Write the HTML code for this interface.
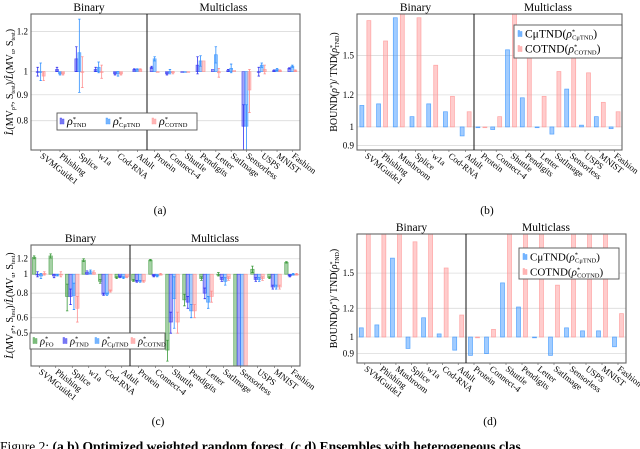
<!DOCTYPE html>
<html><head><meta charset="utf-8">
<style>
html,body{margin:0;padding:0;background:#fff;font-family:"Liberation Serif","DejaVu Serif",serif;}
svg{display:block;}
svg text{font-family:"Liberation Serif","DejaVu Serif",serif;}
.cap{position:absolute;left:0;top:439px;width:700px;font-family:"Liberation Serif","DejaVu Serif",serif;font-size:13.5px;white-space:nowrap;color:#000;}
</style></head>
<body>
<div style="position:relative;width:640px;height:449px;overflow:hidden;">
<svg id="fig" width="640" height="449" viewBox="0 0 640 449" font-family="Liberation Serif, serif"></svg>
<div class="cap">Figure 2: <b>(a,b) Optimized weighted random forest.</b> <b>(c,d) Ensembles with heterogeneous clas</b></div>
</div>
<script>
// ---- data ----
const binA = ["SVMGuide1","Phishing","Splice","w1a","Cod-RNA","Adult"];
const binB = ["SVMGuide1","Phishing","Mushroom","Splice","w1a","Cod-RNA","Adult"];
const multi = ["Protein","Connect-4","Shuttle","Pendigits","Letter","SatImage","Sensorless","USPS","MNIST","Fashion"];

const aTND  = [1.0,1.01,1.06,1.01,0.99,1.01, 1.02,0.99,1.0,1.03,1.01,1.005,0.78,1.0,1.005,1.015];
const aCmu  = [1.0,0.99,1.09,1.02,0.99,1.01, 1.06,1.0,1.0,1.05,1.08,1.015,0.78,1.03,1.01,1.025];
const aCO   = [0.98,0.99,1.0,1.0,0.99,1.01, 1.0,0.995,1.0,1.05,0.995,1.005,0.92,1.01,1.005,1.005];
const aErrTND = [0.02,0.01,0.06,0.01,0.005,0.003, 0.005,0.005,0,0.04,0,0.005,0.08,0.02,0.003,0.003];
const aErrCmu = [0.04,0.005,0.18,0.025,0.01,0.003, 0.01,0.01,0,0.025,0.04,0.02,0.08,0.01,0.005,0.005];
const aErrCO  = [0.02,0.005,0.07,0.03,0.005,0.003, 0,0.005,0,0,0.02,0,0.09,0.02,0.003,0.003];

const bCmu = [1.13,1.14,1.86,1.06,1.14,1.09,0.95, 1.0,0.985,1.55,1.18,1.0,0.96,1.24,1.01,1.06,0.99];
const bCO  = [1.83,1.63,1.95,1.86,1.42,1.19,1.09, 1.0,1.06,1.95,1.6,1.19,1.37,1.6,1.36,1.15,1.09];

const cFO  = [1.22,1.24,0.77,1.18,0.92,0.96, 0.93,1.18,0.41,0.74,0.95,1.0,0.3,1.06,0.96,1.15];
const cTND = [1.0,0.98,0.77,1.02,0.79,0.97, 0.92,0.98,0.57,0.72,0.8,0.94,0.3,0.94,0.86,0.98];
const cCmu = [0.98,0.99,0.78,1.03,0.79,0.96, 0.92,0.98,0.75,0.65,0.72,0.92,0.3,0.94,0.86,1.0];
const cCO  = [1.01,1.0,0.67,1.02,0.82,0.97, 0.92,1.0,0.57,0.65,0.77,0.95,0.3,0.95,0.86,1.0];
const cErrFO  = [0.02,0.03,0.12,0.02,0.02,0.01, 0.01,0.01,0.05,0.05,0.02,0.02,0,0.04,0.01,0.01];
const cErrTND = [0.03,0.02,0.07,0.02,0.01,0.01, 0.01,0.01,0.07,0.05,0.05,0.02,0,0.02,0.02,0.01];
const cErrCmu = [0.03,0.01,0.12,0.02,0.01,0.01, 0.01,0.01,0.22,0.05,0.05,0.04,0,0.02,0.02,0.01];
const cErrCO  = [0.02,0.03,0.1,0.02,0.01,0.01, 0.01,0.01,0.07,0.05,0.05,0.02,0,0.02,0.02,0.01];

const dCmu = [1.06,1.08,1.65,0.93,1.13,1.02,0.92, 0.89,0.9,1.41,1.21,0.995,0.89,1.06,1.04,1.04,0.94];
const dCO  = [1.95,1.95,1.95,1.83,1.95,1.55,1.15, 1.0,1.05,1.95,1.95,1.95,1.39,1.95,1.95,1.95,1.16];

const ticksA = [0.8,0.9,1,1.2];
const ticksB = [0.9,1,1.2,1.5];
const ticksC = [0.5,0.6,0.8,1,1.2];
const ticksD = [0.9,1,1.2,1.5];

// ---- drawing ----
const NS="http://www.w3.org/2000/svg";
const svg=document.getElementById('fig');
const FF="Liberation Serif, DejaVu Serif, serif";
function mk(tag,attrs,parent){const e=document.createElementNS(NS,tag);for(const k in attrs)e.setAttribute(k,attrs[k]);if(tag==='text')e.setAttribute('font-family',FF);(parent||svg).appendChild(e);return e;}
const COL={FO:"#3a9a3a",TND:"#3434f0",Cmu:"#2f8fff",CO:"#ff8f8f"};

function panel(id,p){
  const g=mk('g',{});
  
  
  const y=v=>p.y1-(Math.log(v)-Math.log(p.lo))/(Math.log(p.hi)-Math.log(p.lo))*(p.y1-p.y0);
  p.ticks.forEach(t=>{
    const l=mk('line',{x1:p.x0,x2:p.x1,y1:y(t),y2:y(t),stroke:"#dcdcdc","stroke-width":0.8},g);
    
    
    const tx=mk('text',{x:p.x0-3,y:y(t)+3,"text-anchor":"end","font-size":9},g);
    tx.textContent=String(t);
    
    
  });
  const cats=p.bin.concat(multi);
  const nB=p.bin.length;
  const cx=i=> i<nB ? p.x0+(i+0.5)*(p.div-p.x0)/nB : p.div+(i-nB+0.5)*(p.x1-p.div)/multi.length;
  const clipId='clip'+id;
  const cp=mk('clipPath',{id:clipId},g);
  mk('rect',{x:p.x0,y:p.y0,width:p.x1-p.x0,height:p.y1-p.y0},cp);
  const bars=mk('g',{"clip-path":"url(#"+clipId+")"},g);
  cats.forEach((c,i)=>{
    p.series.forEach((s,k)=>{
      const v=s.vals[i];
      const xl=cx(i)-p.groupW/2+k*(p.bw+p.gap);
      const ya=y(1), yb=y(v);
      const r=mk('rect',{x:xl,y:Math.min(ya,yb),width:p.bw,height:Math.max(0.8,Math.abs(yb-ya)),fill:COL[s.c],"fill-opacity":0.45,stroke:COL[s.c],"stroke-opacity":0.75,"stroke-width":0.7},bars);
      
      
      if(s.err && s.err[i]>0){
        const e=s.err[i], xm=xl+p.bw/2;
        const lo=Math.max(v-e,0.05);
        const el=mk('path',{d:`M${xm},${y(lo)}V${y(v+e)}M${xm-1.2},${y(lo)}h2.4M${xm-1.2},${y(v+e)}h2.4`,stroke:COL[s.c],"stroke-width":0.8,fill:"none"},bars);
        
        
      }
    });
    mk('line',{x1:cx(i),x2:cx(i),y1:p.y1,y2:p.y1+2,stroke:"#555","stroke-width":0.6},g);
    const lx=cx(i)-1, ly=p.y1+7;
    const t=mk('text',{x:lx,y:ly,"font-size":8.8,transform:`rotate(38 ${lx} ${ly})`},g);
    t.textContent=c;
    
    
  });
  const box=mk('rect',{x:p.x0,y:p.y0,width:p.x1-p.x0,height:p.y1-p.y0,fill:"none",stroke:"#666","stroke-width":1.1},g);
  
  
  const dv=mk('line',{x1:p.div,x2:p.div,y1:p.y0,y2:p.y1,stroke:"#111","stroke-width":1},g);
  
  
  const t1=mk('text',{x:(p.x0+p.div)/2,y:p.y0-3,"text-anchor":"middle","font-size":11.5},g);
  t1.textContent="Binary";
  
  
  const t2=mk('text',{x:(p.div+p.x1)/2,y:p.y0-3,"text-anchor":"middle","font-size":11.5},g);
  t2.textContent="Multiclass";
  
  
  const cap=mk('text',{x:p.capX,y:p.capY,"text-anchor":"middle","font-size":11.5},g);
  cap.textContent=p.cap;
  
  
  const yl=mk('text',{x:0,y:0,"text-anchor":"middle","font-size":10,transform:`translate(${p.ylx},${(p.y0+p.y1)/2}) rotate(-90)`},g);
  yl.innerHTML=p.ylab;
  
  
}

const labA='<tspan font-style="italic">L̂</tspan>(MV<tspan font-size="6" dy="2">ρ*</tspan><tspan dy="-2">, S</tspan><tspan font-size="6" dy="2">test</tspan><tspan dy="-2">)/</tspan><tspan font-style="italic">L̂</tspan>(MV<tspan font-size="6" dy="2">u</tspan><tspan dy="-2">, S</tspan><tspan font-size="6" dy="2">test</tspan><tspan dy="-2">)</tspan>';
const labB='BOUND(<tspan font-style="italic">ρ</tspan><tspan font-size="6" dy="-3">*</tspan><tspan dy="3">)/ TND(</tspan><tspan font-style="italic">ρ</tspan><tspan font-size="6" dy="-3">*</tspan><tspan font-size="6" dx="-3" dy="5">TND</tspan><tspan dy="-2">)</tspan>';

panel('a',{x0:31,x1:300,y0:14,y1:150,div:147,lo:0.70,hi:1.30,ticks:ticksA,bin:binA,bw:3,gap:0,groupW:9,
  series:[{c:"TND",vals:aTND,err:aErrTND},{c:"Cmu",vals:aCmu,err:aErrCmu},{c:"CO",vals:aCO,err:aErrCO}],
  cap:"(a)",capX:160,capY:214,ylab:labA,ylx:13});
panel('b',{x0:357,x1:622,y0:14,y1:150,div:474,lo:0.877,hi:1.90,ticks:ticksB,bin:binB,bw:4,gap:3,groupW:11,
  series:[{c:"Cmu",vals:bCmu},{c:"CO",vals:bCO}],
  cap:"(b)",capX:487,capY:214,ylab:labB,ylx:337});
panel('c',{x0:31,x1:300,y0:245,y1:366,div:130,lo:0.34,hi:1.41,ticks:ticksC,bin:binA,bw:3.4,gap:0,groupW:13.6,
  series:[{c:"FO",vals:cFO,err:cErrFO},{c:"TND",vals:cTND,err:cErrTND},{c:"Cmu",vals:cCmu,err:cErrCmu},{c:"CO",vals:cCO,err:cErrCO}],
  cap:"(c)",capX:158,capY:425,ylab:labA,ylx:13});
panel('d',{x0:357,x1:626,y0:234,y1:363,div:466,lo:0.848,hi:1.923,ticks:ticksD,bin:binB,bw:4,gap:3,groupW:11,
  series:[{c:"Cmu",vals:dCmu},{c:"CO",vals:dCO}],
  cap:"(d)",capX:490,capY:425,ylab:labB,ylx:337});

function legend(name,x,y,w,h,entries,row){
  const g=mk('g',{});
  
  
  mk('rect',{x:x,y:y,width:w,height:h,fill:"#fff",stroke:"#555","stroke-width":0.9},g);
  entries.forEach((e,i)=>{
    const ex=row? x+3+e.dx : x+4, ey=row? y+h/2 : y+9+i*15;
    mk('rect',{x:ex,y:ey-3.5,width:1.6,height:6,fill:COL[e.c],"fill-opacity":0.6,stroke:COL[e.c],"stroke-width":0.4},g);
    mk('rect',{x:ex+2.4,y:ey-2.5,width:1.6,height:5,fill:COL[e.c],"fill-opacity":0.6,stroke:COL[e.c],"stroke-width":0.4},g);
    const t=mk('text',{x:ex+7,y:ey+3.5,"font-size":e.fs||11},g);
    t.innerHTML=e.html;
    
    
  });
}
const rho=(sub)=>'<tspan font-style="italic">ρ</tspan><tspan font-size="6.5" dy="-4">*</tspan><tspan font-size="6.5" dx="-3" dy="6">'+sub+'</tspan>';
legend('legend-a',57,113,140,17,[
 {c:"TND",dx:0,html:rho('TND'),fs:12},{c:"Cmu",dx:46,html:rho('CμTND'),fs:12},{c:"CO",dx:92,html:rho('COTND'),fs:12}],true);
legend('legend-c',30,333,135,16,[
 {c:"FO",dx:0,html:rho('FO'),fs:10.5},{c:"TND",dx:30,html:rho('TND'),fs:10.5},{c:"Cmu",dx:62,html:rho('CμTND'),fs:10.5},{c:"CO",dx:98,html:rho('COTND'),fs:10.5}],true);
const cb=(n,s)=>n+'(<tspan font-style="italic">ρ</tspan><tspan font-size="6.5" dy="-4">*</tspan><tspan font-size="6.5" dx="-3" dy="6">'+s+'</tspan><tspan dy="-2">)</tspan>';
legend('legend-b',514,25,108,33,[{c:"Cmu",html:cb('CμTND','CμTND'),fs:11.5},{c:"CO",html:cb('COTND','COTND'),fs:11.5}],false);
legend('legend-d',519,248,100,31,[{c:"Cmu",html:cb('CμTND','CμTND'),fs:11},{c:"CO",html:cb('COTND','COTND'),fs:11}],false);
</script>
</body></html>
